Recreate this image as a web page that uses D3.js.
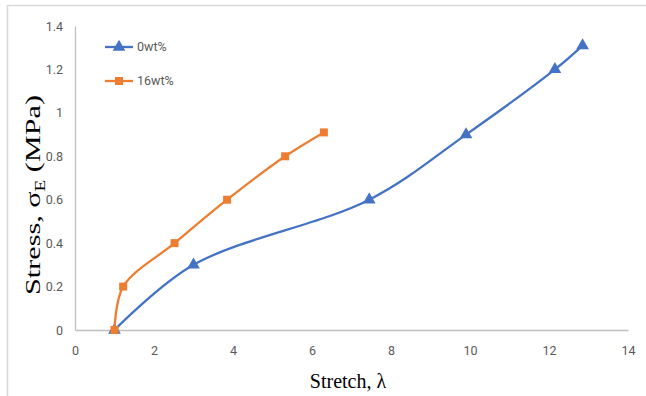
<!DOCTYPE html>
<html>
<head>
<meta charset="utf-8">
<script src="https://cdn.jsdelivr.net/npm/d3@7"></script>
<style>
  body { margin: 0; background: #fff; }
  svg { display: block; }
</style>
</head>
<body>
<script>
// stress vs stretch data
var seriesNames = ["0wt%", "16wt%"];
var stretch0 = [1, 3, 7.45, 9.9, 12.15, 12.85];
var stress0 = [0, 0.3, 0.6, 0.9, 1.2, 1.31];
var stretch16 = [1, 1.22, 2.52, 3.85, 5.32, 6.3];
var stress16 = [0, 0.2, 0.4, 0.6, 0.8, 0.91];
var xTicks = [0, 2, 4, 6, 8, 10, 12, 14];
var yTicks = [0, 0.2, 0.4, 0.6, 0.8, 1, 1.2, 1.4];

var W = 646, H = 396;
var colors = ["#4472c4", "#ed7d31"];
var tickFont = "'Liberation Sans Narrow', 'Arial Narrow', 'Roboto', sans-serif";
var titleFont = "'Liberation Serif', 'Times New Roman', serif";

var svg = d3.select("body").append("svg").attr("width", W).attr("height", H);

// frame of the embedded chart
svg.append("path")
  .attr("d", "M7.5," + H + "V5.5H" + W)
  .attr("fill", "none")
  .attr("stroke", "#d9d9d9")
  .attr("stroke-width", 1.5);

var x = d3.scaleLinear().domain([0, 14]).range([75, 628]);
var y = d3.scaleLinear().domain([0, 1.4]).range([330, 26]);

// axes
var xAxis = svg.append("g")
  .attr("transform", "translate(0," + y(0) + ")")
  .call(d3.axisBottom(x).tickValues(xTicks).tickSize(0).tickPadding(16));
var yAxis = svg.append("g")
  .attr("transform", "translate(" + x(0) + ",0)")
  .call(d3.axisLeft(y).tickValues(yTicks).tickSize(0).tickPadding(12).tickFormat(d3.format("~g")));

[xAxis, yAxis].forEach(function(a){
  a.select(".domain").attr("stroke", "#bfbfbf").attr("stroke-width", 1.3);
  a.selectAll("text")
    .attr("fill", "#595959")
    .style("font-family", tickFont)
    .style("font-size", "12.5px");
});

// series
var series = [
  { name: seriesNames[0], pts: stretch0.map(function(d, i){ return [d, stress0[i]]; }), color: colors[0], shape: d3.symbolTriangle },
  { name: seriesNames[1], pts: stretch16.map(function(d, i){ return [d, stress16[i]]; }), color: colors[1], shape: d3.symbolSquare }
];

var line = d3.line()
  .x(function(d){ return x(d[0]); })
  .y(function(d){ return y(d[1]); })
  .curve(d3.curveCatmullRom.alpha(0.5));

function markerSize(s){ return s.shape === d3.symbolSquare ? 64 : 70; }

series.forEach(function(s){
  svg.append("path")
    .attr("d", line(s.pts))
    .attr("fill", "none")
    .attr("stroke", s.color)
    .attr("stroke-width", 2.3);
  svg.selectAll(null).data(s.pts).enter().append("path")
    .attr("d", d3.symbol().type(s.shape).size(markerSize(s)))
    .attr("transform", function(d){ return "translate(" + x(d[0]) + "," + y(d[1]) + ")"; })
    .attr("fill", s.color);
});

// legend
series.forEach(function(s, i){
  var ly = 47 + i * 34;
  var g = svg.append("g");
  g.append("line").attr("x1", 105).attr("x2", 133).attr("y1", ly).attr("y2", ly)
    .attr("stroke", s.color).attr("stroke-width", 2.3);
  g.append("path")
    .attr("d", d3.symbol().type(s.shape).size(markerSize(s)))
    .attr("transform", "translate(119," + ly + ")")
    .attr("fill", s.color);
  g.append("text").attr("x", 137).attr("y", ly).attr("dy", "0.35em")
    .attr("fill", "#595959")
    .style("font-family", tickFont).style("font-size", "12.5px")
    .text(s.name);
});

// axis titles
svg.append("text")
  .attr("x", 348).attr("y", 388)
  .attr("text-anchor", "middle")
  .attr("fill", "#000")
  .style("font-family", titleFont).style("font-size", "20px")
  .text("Stretch, \u03bb");

var yt = svg.append("text")
  .attr("text-anchor", "middle")
  .attr("fill", "#000")
  .style("font-family", titleFont).style("font-size", "22px");
yt.append("tspan").text("Stress, \u03c3");
yt.append("tspan").attr("dy", 5).style("font-size", "14px").text("E");
yt.append("tspan").attr("dy", -5).text(" (MPa)");
// stretch the title along its direction to the length seen in the picture
var k = 200 / yt.node().getComputedTextLength();
yt.attr("transform", "translate(40,195) rotate(-90) scale(" + k + ",1)");
</script>
</body>
</html>
